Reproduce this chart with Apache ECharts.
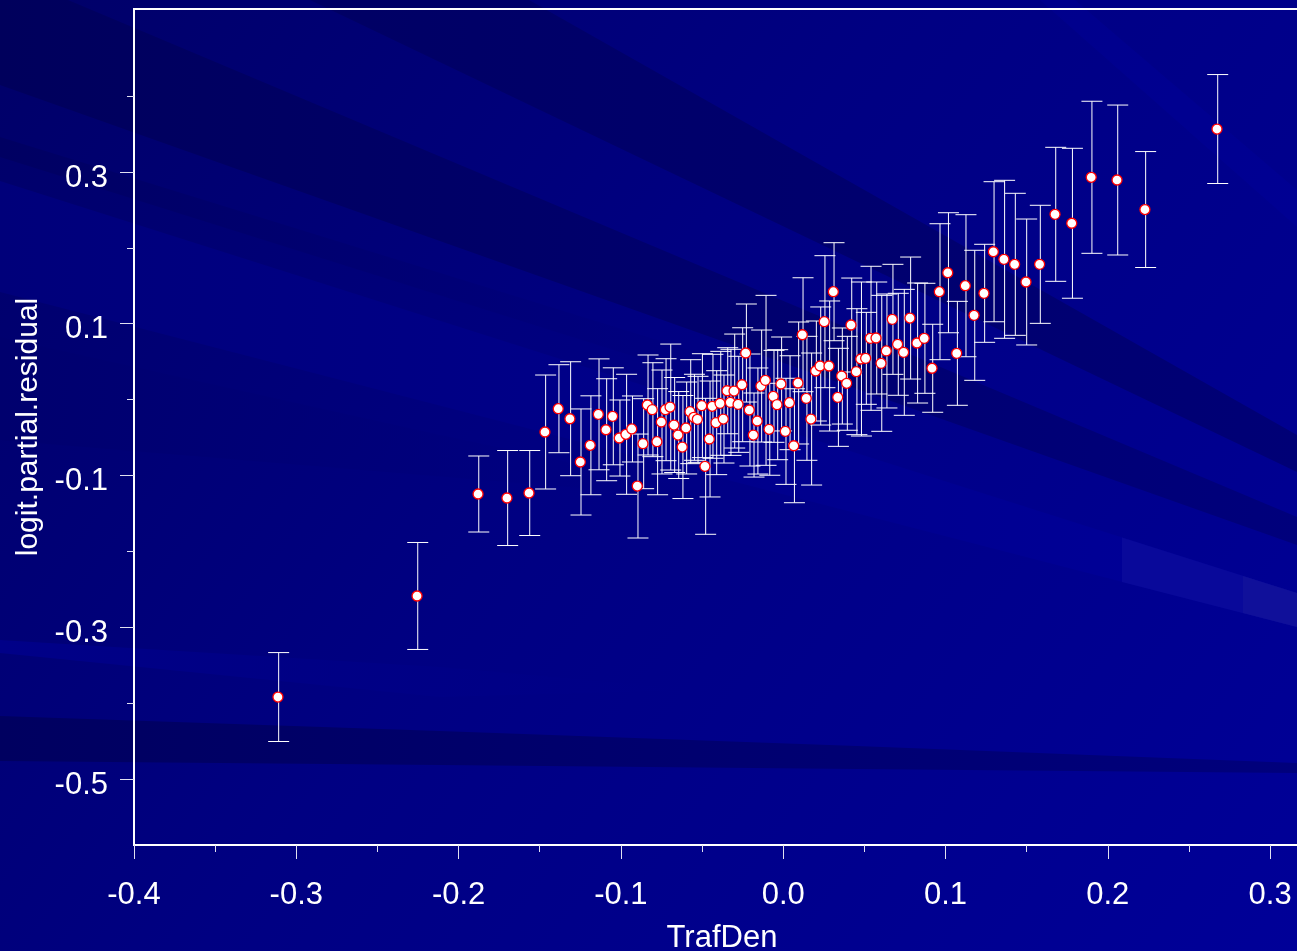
<!DOCTYPE html>
<html>
<head>
<meta charset="utf-8">
<style>html,body{margin:0;padding:0;background:#000080;overflow:hidden}#c{width:1297px;height:951px}</style>
<script src="https://cdn.jsdelivr.net/npm/echarts@6/dist/echarts.min.js"></script>
</head>
<body>
<div id="c"></div>
<script>
const trafDen = [-0.3113,-0.2256,-0.1880,-0.1702,-0.1566,-0.1468,-0.1386,-0.1314,-0.1250,-0.1189,
-0.1139,-0.1092,-0.1051,-0.1010,-0.0969,-0.0933,-0.0899,-0.0864,-0.0837,-0.0807,
-0.0778,-0.0751,-0.0726,-0.0697,-0.0673,-0.0648,-0.0622,-0.0599,-0.0574,-0.0551,
-0.0529,-0.0502,-0.0482,-0.0455,-0.0437,-0.0414,-0.0389,-0.0369,-0.0346,-0.0326,
-0.0303,-0.0278,-0.0254,-0.0231,-0.0209,-0.0184,-0.0160,-0.0137,-0.0110,-0.0087,
-0.0061,-0.0038,-0.0014,0.0013,0.0038,0.0065,0.0091,0.0118,0.0142,0.0171,
0.0200,0.0227,0.0253,0.0282,0.0309,0.0336,0.0360,0.0391,0.0418,0.0450,
0.0478,0.0508,0.0537,0.0572,0.0603,0.0635,0.0672,0.0705,0.0742,0.0781,
0.0824,0.0869,0.0917,0.0962,0.1014,0.1069,0.1122,0.1176,0.1237,0.1295,
0.1360,0.1426,0.1496,0.1580,0.1675,0.1778,0.1898,0.2057,0.2229,0.2673];
const residual = [-0.3920,-0.2588,-0.1244,-0.1297,-0.1231,-0.0427,-0.0120,-0.0252,-0.0822,-0.0602,
-0.0194,-0.0397,-0.0220,-0.0506,-0.0457,-0.0387,-0.1139,-0.0581,-0.0071,-0.0133,
-0.0555,-0.0295,-0.0133,-0.0098,-0.0335,-0.0467,-0.0625,-0.0374,-0.0159,-0.0233,
-0.0260,-0.0080,-0.0879,-0.0519,-0.0088,-0.0304,-0.0049,-0.0256,0.0117,-0.0036,
0.0113,-0.0062,0.0196,0.0614,-0.0137,-0.0467,-0.0282,0.0179,0.0254,-0.0391,
0.0043,-0.0067,0.0206,-0.0418,-0.0041,-0.0608,0.0219,0.0855,0.0017,-0.0256,
0.0377,0.0443,0.1027,0.0443,0.1422,0.0030,0.0311,0.0215,0.0983,0.0368,
0.0535,0.0544,0.0808,0.0812,0.0478,0.0641,0.1058,0.0729,0.0623,0.1075,
0.0746,0.0808,0.0413,0.1422,0.1672,0.0610,0.1501,0.1111,0.1401,0.1949,
0.1849,0.1783,0.1550,0.1783,0.2442,0.2324,0.2930,0.2894,0.2505,0.3566];
const halfBar = [0.0586,0.0705,0.0501,0.0626,0.0560,0.0751,0.0580,0.0751,0.0699,0.0652,
0.0731,0.0672,0.0639,0.0501,0.0791,0.0435,0.0685,0.0593,0.0659,0.0619,
0.0699,0.0685,0.0672,0.0830,0.0626,0.0573,0.0679,0.0606,0.0685,0.0567,
0.0567,0.0685,0.0896,0.0764,0.0685,0.0685,0.0685,0.0580,0.0567,0.0699,
0.0751,0.0633,0.0751,0.0646,0.0738,0.0554,0.0699,0.0738,0.1120,0.0606,
0.0606,0.0725,0.0619,0.0699,0.0619,0.0751,0.0804,0.0751,0.0817,0.0870,
0.0659,0.0778,0.0870,0.0857,0.0646,0.0646,0.0633,0.0619,0.0619,0.0830,
0.1015,0.0606,0.0949,0.0738,0.0896,0.0751,0.0725,0.0672,0.0830,0.0804,
0.0791,0.0725,0.0580,0.0896,0.0791,0.0685,0.0936,0.0857,0.0646,0.0923,
0.1041,0.0936,0.0830,0.0778,0.0883,0.0988,0.1002,0.0988,0.0764,0.0718];
const xMajor = [-0.4,-0.3,-0.2,-0.1,0,0.1,0.2,0.3];
const xMinor = [-0.35,-0.25,-0.15,-0.05,0.05,0.15,0.25];
const yMajor = [-0.5,-0.3,-0.1,0.1,0.3];
const yMinor = [-0.4,-0.2,0,0.2,0.4];

const G = echarts.graphic;
const hg = (a,b)=>new G.LinearGradient(0,0,1,0,[{offset:0,color:a},{offset:1,color:b}]);
const band = (pts,fill)=>({type:'polygon',silent:true,z:-50,shape:{points:pts},style:{fill}});
const bands = [
  band([[68,0],[1297,517],[1297,545],[0,85],[0,0]], hg('#00005c','#00007c')),
  band([[310,0],[529,0],[1297,435],[1297,472]], hg('#000064','#000076')),
  band([[0,137],[900,415],[900,440],[0,157]], hg('#000062','rgba(0,0,128,0)')),
  band([[0,181],[1297,593],[1297,627],[0,292]], hg('#00007a','#00009a')),
  band([[0,337],[440,435],[760,503],[0,440]], hg('#00006e','rgba(0,0,128,0)')),
  band([[0,716],[440,731],[857,746],[1297,763],[1297,773],[857,769],[440,765],[0,761]], hg('#000060','#00007c')),
  band([[0,640],[440,667],[700,690],[440,697],[0,653]], hg('#000088','rgba(0,0,140,0)')),
  band([[1040,0],[1075,0],[1297,190],[1297,227]], 'rgba(0,0,170,0.22)'),
  band([[1122,537.5],[1297,593],[1297,627],[1122,582]], '#09099a'),
  band([[1243,576],[1297,593],[1297,627],[1243,613]], '#10109a')
];

const barData = trafDen.map((x,i)=>[x,residual[i]-halfBar[i],residual[i]+halfBar[i]]);
const pointData = trafDen.map((x,i)=>[x,residual[i]]);
const font = 'Liberation Sans, Arial, sans-serif';
const lab = {color:'#fff',fontFamily:font,fontSize:30};
const labX = {color:'#fff',fontFamily:font,fontSize:31};

const chart = echarts.init(document.getElementById('c'),null,{renderer:'canvas'});
chart.setOption({
  animation:false,
  backgroundColor:new G.LinearGradient(0,0,1,1,[{offset:0,color:'#000068'},{offset:0.45,color:'#000082'},{offset:1,color:'#000098'}]),
  graphic:{elements:bands},
  grid:{left:134,top:9,width:1176,height:836,show:true,borderColor:'#fff',borderWidth:2,backgroundColor:'transparent',containLabel:false,outerBoundsMode:'none'},
  xAxis:[
    {type:'value',min:-0.4,max:0.3246,position:'bottom',name:'TrafDen',nameLocation:'middle',nameGap:78,
     nameTextStyle:labX,splitLine:{show:false},axisLine:{show:false,onZero:false},
     axisTick:{show:true,length:14,customValues:xMajor,lineStyle:{color:'#e0e0f0',width:1}},
     axisLabel:Object.assign({margin:35,customValues:xMajor,formatter:v=>v.toFixed(1)},labX)},
    {type:'value',min:-0.4,max:0.3246,position:'bottom',splitLine:{show:false},axisLine:{show:false,onZero:false},
     axisTick:{show:true,length:7,customValues:xMinor,lineStyle:{color:'#e0e0f0',width:1}},
     axisLabel:{show:false}}
  ],
  yAxis:[
    {type:'value',min:-0.587,max:0.5148,position:'left',name:'logit.partial.residual',nameLocation:'middle',nameGap:81,
     nameTextStyle:lab,splitLine:{show:false},axisLine:{show:false,onZero:false},
     axisTick:{show:true,length:14,customValues:yMajor,lineStyle:{color:'#e0e0f0',width:1}},
     axisLabel:{margin:26,customValues:yMajor,verticalAlign:'middle',
       formatter:v=>'{a|'+v.toFixed(1)+'}',
       rich:{a:{color:'#fff',fontFamily:font,fontSize:31,padding:[12,0,0,0]}}}},
    {type:'value',min:-0.587,max:0.5148,position:'left',splitLine:{show:false},axisLine:{show:false,onZero:false},
     axisTick:{show:true,length:7,customValues:yMinor,lineStyle:{color:'#e0e0f0',width:1}},
     axisLabel:{show:false}}
  ],
  series:[
    {type:'custom',coordinateSystem:'cartesian2d',xAxisIndex:0,yAxisIndex:0,silent:true,z:3,clip:false,
     encode:{x:0,y:[1,2]},data:barData,
     renderItem:(p,api)=>{
       const lo=api.coord([api.value(0),api.value(1)]),hi=api.coord([api.value(0),api.value(2)]);
       const x=lo[0]+0.7,c=10.5,style={stroke:'#ffffff',lineWidth:1};
       const l=(a,b,d,e)=>({type:'line',shape:{x1:a,y1:b,x2:d,y2:e},style});
       return {type:'group',children:[l(x,lo[1],x,hi[1]),l(x-c,lo[1],x+c,lo[1]),l(x-c,hi[1],x+c,hi[1])]};
     }},
    {type:'scatter',xAxisIndex:0,yAxisIndex:0,z:5,silent:true,symbol:'circle',symbolSize:10,data:pointData,
     itemStyle:{color:'#ffffff',borderColor:'#ff0000',borderWidth:1.3,opacity:1}}
  ]
});
</script>
</body>
</html>
